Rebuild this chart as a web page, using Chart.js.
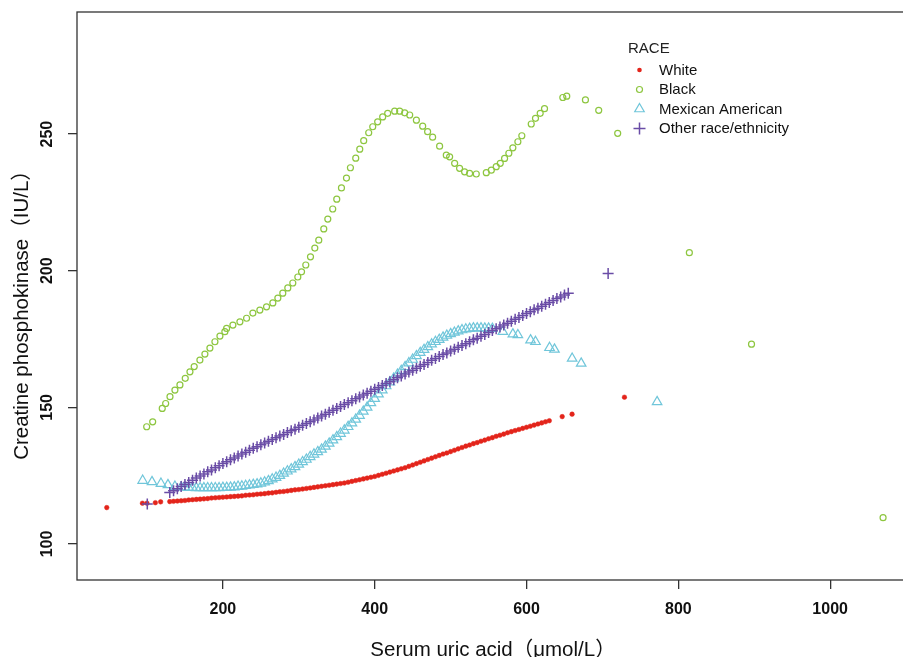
<!DOCTYPE html>
<html>
<head>
<meta charset="utf-8">
<script src="https://cdn.jsdelivr.net/npm/chart.js@4.4.0/dist/chart.umd.min.js"></script>
<style>
  html, body { margin: 0; padding: 0; background: #fff; overflow: hidden; }
  #wrap { position: relative; width: 930px; height: 657px; }
</style>
</head>
<body>
<div id="wrap"><canvas id="chart"></canvas></div>
<script>
// tick labels
const xTicks = [200, 400, 600, 800, 1000];
const yTicks = [100, 150, 200, 250];

// White
const whiteX = [47, 94, 100, 111, 118,
  130, 135, 140, 145, 150, 155, 160, 165, 170, 175,
  180, 185, 190, 195, 200, 205, 210, 215, 220, 225,
  230, 235, 240, 245, 250, 255, 260, 265, 270, 275,
  280, 285, 290, 295, 300, 305, 310, 315, 320, 325,
  330, 335, 340, 345, 350, 355, 360, 365, 370, 375,
  380, 385, 390, 395, 400, 405, 410, 415, 420, 425,
  430, 435, 440, 445, 450, 455, 460, 465, 470, 475,
  480, 485, 490, 495, 500, 505, 510, 515, 520, 525,
  530, 535, 540, 545, 550, 555, 560, 565, 570, 575,
  580, 585, 590, 595, 600, 605, 610, 615, 620, 625,
  630, 647, 660, 729];
const whiteY = [113.3, 114.9, 114.9, 115.1, 115.4,
  115.5, 115.6, 115.7, 115.8, 115.9, 116.1, 116.2, 116.3, 116.4, 116.5,
  116.6, 116.8, 116.9, 117.0, 117.1, 117.2, 117.3, 117.4, 117.5, 117.6,
  117.8, 117.9, 118.0, 118.2, 118.3, 118.4, 118.6, 118.7, 118.9, 119.1,
  119.2, 119.4, 119.6, 119.8, 119.9, 120.1, 120.3, 120.5, 120.7, 120.9,
  121.1, 121.3, 121.5, 121.7, 121.9, 122.1, 122.3, 122.6, 122.9, 123.2,
  123.5, 123.8, 124.1, 124.4, 124.7, 125.1, 125.5, 125.9, 126.3, 126.7,
  127.1, 127.5, 127.9, 128.4, 128.9, 129.4, 129.9, 130.4, 130.9, 131.4,
  131.9, 132.4, 132.9, 133.3, 133.8, 134.3, 134.8, 135.3, 135.8, 136.2,
  136.7, 137.1, 137.6, 138.0, 138.5, 138.9, 139.4, 139.8, 140.2, 140.7,
  141.1, 141.5, 141.9, 142.3, 142.7, 143.1, 143.5, 143.9, 144.3, 144.7,
  145.1, 146.6, 147.5, 153.7];

// Black
const blackX = [99.6, 107.5, 120.1, 124.6, 130.3, 136.8, 143.4, 150.4, 156.6, 162.2,
  169.7, 176.3, 182.9, 189.5, 196.1, 202.6, 204.9, 213.2, 222.4, 231.2,
  239.5, 248.7, 257.5, 265.8, 272.4, 278.9, 285.5, 292.1, 298.7, 303.6,
  309.2, 315.4, 321.1, 326.3, 332.9, 338.2, 344.7, 350, 356.2, 362.8,
  368, 375, 380.3, 385.5, 392.1, 397.4, 403.9, 410.5, 417.1, 426.3,
  432.9, 439.5, 446.1, 454.9, 463.2, 469.7, 476.3, 485.5, 494.3, 498.7,
  505.3, 511.8, 518.4, 525, 533.8, 547, 553.6, 560.1, 565.4, 571.1,
  576.7, 582, 588.6, 593.8, 606.2, 611.8, 618, 623.7, 647.8, 653,
  677.6, 695.1, 720.1, 814.5, 896.4, 1069.7];
const blackY = [142.9, 144.7, 149.6, 151.4, 153.9, 156.3, 158.2, 160.6, 163.0, 164.9,
  167.3, 169.5, 171.7, 174.0, 176.1, 177.7, 178.9, 180.1, 181.3, 182.6,
  184.5, 185.6, 186.8, 188.2, 190.0, 191.8, 193.7, 195.5, 197.7, 199.6,
  202.1, 205.1, 208.3, 211.2, 215.3, 218.9, 222.6, 226.2, 230.3, 233.9,
  237.7, 241.2, 244.5, 247.6, 250.5, 252.7, 254.5, 256.3, 257.6, 258.4,
  258.4, 257.8, 257.0, 255.1, 252.9, 250.9, 248.9, 245.6, 242.3, 241.7,
  239.3, 237.5, 236.2, 235.6, 235.4, 235.9, 236.8, 238.1, 239.3, 241.1,
  243.0, 245.0, 247.2, 249.4, 253.7, 255.8, 257.6, 259.3, 263.4, 263.9,
  262.5, 258.7, 250.3, 206.6, 173.1, 109.6];

// Mexican American
const mexX = [94.3, 106.6, 118.4, 127.6, 136.8,
  145, 150, 155, 160, 165, 170, 175, 180, 185, 190,
  195, 200, 205, 210, 215, 220, 225, 230, 235, 240,
  245, 250, 255, 260, 265, 270, 275, 280, 285, 290,
  295, 300, 305, 310, 315, 320, 325, 330, 335, 340,
  345, 350, 355, 360, 365, 370, 375, 380, 385, 390,
  395, 400, 405, 410, 415, 420, 425, 430, 435, 440,
  445, 450, 455, 460, 465, 470, 475, 480, 485, 490,
  495, 500, 505, 510, 515, 520, 525, 530, 535, 540,
  545, 550, 555,
  568.8, 582, 588.6, 605.3, 611.8, 630.3, 636.8, 660.1, 672, 772];
const mexY = [123.2, 122.7, 122.1, 121.6, 121.0,
  120.8, 120.7, 120.6, 120.6, 120.5, 120.5, 120.5, 120.5, 120.5, 120.5,
  120.5, 120.6, 120.6, 120.7, 120.8, 121.0, 121.1, 121.3, 121.5, 121.7,
  121.9, 122.2, 122.6, 123.1, 123.7, 124.3, 125.0, 125.8, 126.6, 127.4,
  128.2, 129.1, 130.0, 130.9, 131.9, 132.8, 133.7, 134.6, 135.7, 136.8,
  138.0, 139.2, 140.4, 141.6, 142.9, 144.2, 145.6, 147.0, 148.5, 150.0,
  151.6, 153.2, 154.8, 156.3, 157.8, 159.2, 160.6, 162.0, 163.4, 164.8,
  166.2, 167.5, 168.8, 170.0, 171.1, 172.1, 173.1, 174.0, 174.8, 175.6,
  176.3, 176.9, 177.4, 177.9, 178.3, 178.6, 178.8, 179.0, 179.0, 179.0,
  178.9, 178.9, 178.8,
  177.7, 176.8, 176.5, 174.6, 174.0, 171.8, 171.2, 167.9, 166.1, 152.0];

// Other race/ethnicity
const otherX = [100.4,
  130, 135, 140, 145, 150, 155, 160, 165, 170, 175,
  180, 185, 190, 195, 200, 205, 210, 215, 220, 225,
  230, 235, 240, 245, 250, 255, 260, 265, 270, 275,
  280, 285, 290, 295, 300, 305, 310, 315, 320, 325,
  330, 335, 340, 345, 350, 355, 360, 365, 370, 375,
  380, 385, 390, 395, 400, 405, 410, 415, 420, 425,
  430, 435, 440, 445, 450, 455, 460, 465, 470, 475,
  480, 485, 490, 495, 500, 505, 510, 515, 520, 525,
  530, 535, 540, 545, 550, 555, 560, 565, 570, 575,
  580, 585, 590, 595, 600, 605, 610, 615, 620, 625,
  630, 635, 640, 645, 650, 655, 707.5];
const otherY = [114.6,
  118.8, 119.5, 120.2, 121.0, 121.8, 122.5, 123.3, 124.1, 124.9, 125.6,
  126.4, 127.1, 127.9, 128.6, 129.4, 130.1, 130.8, 131.5, 132.2, 132.9,
  133.6, 134.3, 135.0, 135.6, 136.3, 136.9, 137.6, 138.2, 138.9, 139.5,
  140.1, 140.8, 141.4, 142.0, 142.7, 143.4, 144.1, 144.7, 145.4, 146.1,
  146.8, 147.5, 148.2, 148.9, 149.6, 150.3, 151.0, 151.7, 152.4, 153.1,
  153.8, 154.5, 155.2, 155.9, 156.6, 157.3, 158.0, 158.7, 159.4, 160.1,
  160.8, 161.5, 162.2, 162.9, 163.6, 164.3, 165.0, 165.7, 166.4, 167.2,
  167.9, 168.6, 169.3, 169.9, 170.6, 171.3, 172.0, 172.6, 173.3, 174.0,
  174.7, 175.3, 176.0, 176.7, 177.4, 178.1, 178.8, 179.4, 180.1, 180.8,
  181.5, 182.2, 182.9, 183.6, 184.3, 185.0, 185.7, 186.3, 187.0, 187.7,
  188.4, 189.1, 189.8, 190.4, 191.1, 191.8, 199.0];

const FONT = 'Arial, "Liberation Sans", "Noto Sans CJK SC", sans-serif';
const RED = '#E3241B', GREEN = '#8DC63F', CYAN = '#70C6DA', PURPLE = '#6A4CA6';

function pts(xs, ys) {
  return xs.map((x, i) => ({ x: x, y: ys[i] }));
}

// box, rotated y labels, axis titles and legend
const decor = {
  id: 'decor',
  afterDraw(chart) {
    const ctx = chart.ctx;
    const a = chart.chartArea;
    const ys = chart.scales.y;
    ctx.save();
    ctx.strokeStyle = '#333';
    ctx.lineWidth = 1.3;
    ctx.strokeRect(a.left, a.top, a.right - a.left, a.bottom - a.top);

    ctx.fillStyle = '#111';
    ctx.font = 'bold 16px ' + FONT;
    ctx.textAlign = 'center';
    ctx.textBaseline = 'middle';
    ys.ticks.forEach(t => {
      const py = ys.getPixelForValue(t.value);
      ctx.save();
      ctx.translate(48, py);
      ctx.rotate(-Math.PI / 2);
      ctx.fillText(String(t.value), 0, 0);
      ctx.restore();
    });

    ctx.font = '20.5px ' + FONT;
    ctx.textBaseline = 'alphabetic';
    ctx.fillText('Serum uric acid（μmol/L）', 493, 656);
    ctx.save();
    ctx.translate(27.5, 310);
    ctx.rotate(-Math.PI / 2);
    ctx.fillText('Creatine phosphokinase（IU/L）', 0, 0);
    ctx.restore();

    // legend
    ctx.textAlign = 'left';
    ctx.font = '15px ' + FONT;
    ctx.fillStyle = '#222';
    ctx.fillText('RACE', 628, 53);
    const names = ['White', 'Black', 'Mexican American', 'Other race/ethnicity'];
    const base = [75, 94.3, 113.6, 133];
    const sy = [70, 89.5, 109, 128.5];
    const sx = 639.5;
    names.forEach((n, i) => {
      ctx.fillStyle = '#111';
      ctx.fillText(n, 659, base[i]);
    });
    ctx.lineWidth = 1.2;
    ctx.fillStyle = RED;
    ctx.beginPath(); ctx.arc(sx, sy[0], 2.3, 0, Math.PI * 2); ctx.fill();
    ctx.strokeStyle = GREEN;
    ctx.beginPath(); ctx.arc(sx, sy[1], 3, 0, Math.PI * 2); ctx.stroke();
    ctx.strokeStyle = CYAN;
    ctx.beginPath();
    ctx.moveTo(sx, sy[2] - 5.5);
    ctx.lineTo(sx + 4.76, sy[2] + 2.75);
    ctx.lineTo(sx - 4.76, sy[2] + 2.75);
    ctx.closePath(); ctx.stroke();
    ctx.strokeStyle = PURPLE;
    ctx.lineWidth = 1.5;
    ctx.beginPath();
    ctx.moveTo(sx - 6, sy[3]); ctx.lineTo(sx + 6, sy[3]);
    ctx.moveTo(sx, sy[3] - 6); ctx.lineTo(sx, sy[3] + 6);
    ctx.stroke();
    ctx.restore();
  }
};

const tickGrid = { drawOnChartArea: false, drawTicks: true, tickLength: 9, color: '#333', lineWidth: 1.3 };

new Chart(document.getElementById('chart'), {
  type: 'scatter',
  data: {
    datasets: [
      { label: 'White', data: pts(whiteX, whiteY), order: 4, pointStyle: 'circle', pointRadius: 2.3,
        pointBackgroundColor: RED, pointBorderColor: RED, pointBorderWidth: 0.5 },
      { label: 'Black', data: pts(blackX, blackY), order: 3, pointStyle: 'circle', pointRadius: 3,
        pointBackgroundColor: 'rgba(0,0,0,0)', pointBorderColor: GREEN, pointBorderWidth: 1.2 },
      { label: 'Mexican American', data: pts(mexX, mexY), order: 2, pointStyle: 'triangle', pointRadius: 5.5,
        pointBackgroundColor: 'rgba(0,0,0,0)', pointBorderColor: CYAN, pointBorderWidth: 1.2 },
      { label: 'Other race/ethnicity', data: pts(otherX, otherY), order: 1, pointStyle: 'cross', pointRadius: 5.5,
        pointBackgroundColor: PURPLE, pointBorderColor: PURPLE, pointBorderWidth: 1.5 }
    ]
  },
  options: {
    responsive: true,
    maintainAspectRatio: false,
    animation: false,
    events: [],
    layout: { padding: { left: 0, top: 12, right: 13, bottom: 0 } },
    plugins: { legend: { display: false }, tooltip: { enabled: false } },
    scales: {
      x: {
        type: 'linear', min: 7.8, max: 1114.4,
        afterFit(s) { s.height = 77; },
        afterBuildTicks(s) { s.ticks = xTicks.map(v => ({ value: v })); },
        grid: tickGrid,
        border: { display: false },
        ticks: { color: '#111', font: { family: FONT, size: 16, weight: 'bold' }, padding: 11, maxRotation: 0, autoSkip: false,
          callback: v => String(v) }
      },
      y: {
        type: 'linear', min: 86.8, max: 294.7,
        afterFit(s) { s.width = 77; },
        afterBuildTicks(s) { s.ticks = yTicks.map(v => ({ value: v })); },
        grid: tickGrid,
        border: { display: false },
        ticks: { display: false }
      }
    }
  },
  plugins: [decor]
});
</script>
</body>
</html>
